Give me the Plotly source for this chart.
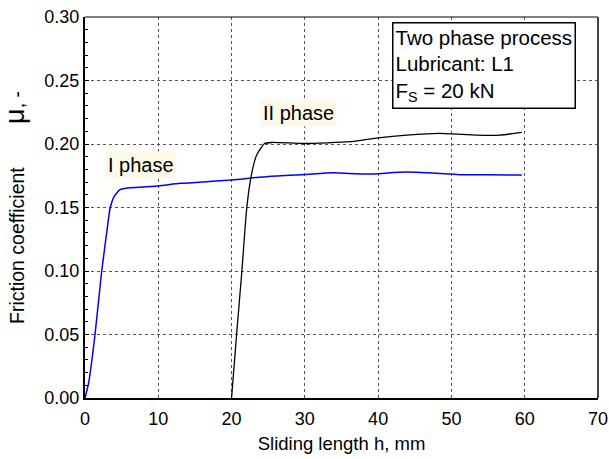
import plotly.graph_objects as go

# Phase I (blue)
x1 = [0, 0.5, 1.36, 2.27, 3.0, 3.41, 4.0, 4.77, 6.1, 10, 13, 20, 25, 30, 33.9, 38.4, 43.9, 49.8, 51.2, 55, 59.6]
y1 = [0, 0.012, 0.0496, 0.0994, 0.132, 0.149, 0.159, 0.164, 0.1655, 0.167, 0.169, 0.1716, 0.1745, 0.176, 0.1773, 0.1763, 0.1779, 0.1763, 0.1758, 0.1757, 0.1755]

# Phase II (black)
x2 = [20, 20.7, 21.4, 22.06, 22.65, 23.4, 24.5, 25.5, 30, 36.1, 40, 43.9, 48.4, 53.4, 56.6, 59.6]
y2 = [0, 0.051, 0.0994, 0.149, 0.174, 0.191, 0.2004, 0.2012, 0.2004, 0.2018, 0.2049, 0.207, 0.2083, 0.207, 0.207, 0.2091]

x_ticks = [0, 10, 20, 30, 40, 50, 60, 70]
y_ticks = [0.00, 0.05, 0.10, 0.15, 0.20, 0.25, 0.30]

fig = go.Figure()
fig.add_trace(go.Scatter(x=x1, y=y1, mode="lines", line=dict(color="#0000ff", width=1.5, shape="spline", smoothing=0.5), showlegend=False))
fig.add_trace(go.Scatter(x=x2, y=y2, mode="lines", line=dict(color="#000000", width=1.3, shape="spline", smoothing=0.5), showlegend=False))

font_tick = dict(family="Arial, Liberation Sans, sans-serif", size=18, color="black")
NB = "\u00a0"
y_title = "Friction coefficient" + NB * 8 + "<span style='font-size:27px'>μ</span>, -" + NB * 9

fig.update_layout(
    width=609, height=459,
    margin=dict(l=85, r=11, t=17, b=61),
    paper_bgcolor="white", plot_bgcolor="white",
    font=dict(family="Arial, Liberation Sans, sans-serif", color="black"),
    xaxis=dict(
        range=[0, 70], tickvals=x_ticks, ticktext=[str(v) for v in x_ticks],
        showgrid=True, gridcolor="#555555", griddash="dot", gridwidth=1,
        showline=True, linecolor="black", linewidth=2,
        ticks="", tickfont=font_tick, zeroline=False, automargin=False, ticklabelstandoff=3,
        title=dict(text="Sliding length h, mm", font=dict(size=18.5), standoff=9),
    ),
    yaxis=dict(
        range=[0, 0.30], tickvals=y_ticks, ticktext=["%.2f" % v for v in y_ticks],
        showgrid=True, gridcolor="#555555", griddash="dot", gridwidth=1,
        showline=True, linecolor="black", linewidth=2,
        ticks="inside", ticklen=4, tickcolor="black", tickfont=font_tick, zeroline=False, automargin=False,
        minor=dict(dtick=0.01, ticks="inside", ticklen=3, tickcolor="black", showgrid=False),
        title=dict(text=y_title, font=dict(size=19.5), standoff=15),
    ),
    shapes=[
        dict(type="line", xref="paper", yref="paper", x0=0, x1=1, y0=1, y1=1, line=dict(color="black", width=1)),
        dict(type="line", xref="paper", yref="paper", x0=1, x1=1, y0=0, y1=1, line=dict(color="#444444", width=2)),
    ],
    annotations=[
        dict(x=7.7, y=0.1834, xref="x", yref="y", text="I phase", showarrow=False, xanchor="center", yanchor="middle",
             font=dict(size=20), bgcolor="#fcf9e8", borderpad=2),
        dict(x=29.2, y=0.2243, xref="x", yref="y", text="II phase", showarrow=False, xanchor="center", yanchor="middle",
             font=dict(size=20), bgcolor="#fcf9e8", borderpad=2),
        dict(x=41.9, y=0.296, xref="x", yref="y", xanchor="left", yanchor="top", align="left", showarrow=False,
             text="Two phase process<br>Lubricant: L1<br>F<sub>S</sub> = 20 kN",
             font=dict(size=20.5), bgcolor="white", bordercolor="black", borderwidth=1.5, borderpad=2),
    ],
)

fig.write_html("out.html", config={"displayModeBar": False}, post_script="document.body.style.margin='0';")
